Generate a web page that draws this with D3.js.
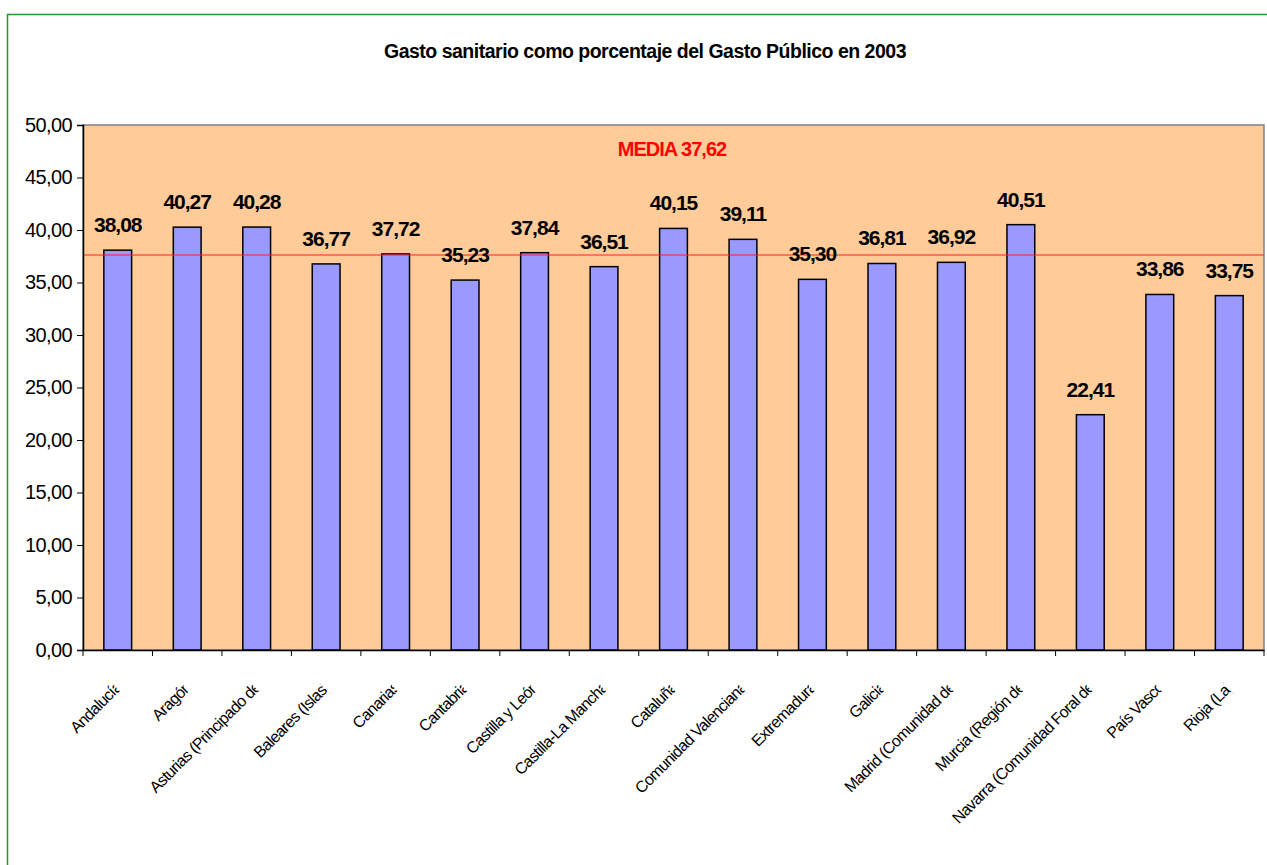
<!DOCTYPE html>
<html>
<head>
<meta charset="utf-8">
<script src="https://cdn.jsdelivr.net/npm/d3@7"></script>
<style>
  body { margin: 0; background: #fff; }
  svg { display: block; font-family: Arial, "Liberation Sans", sans-serif; }
</style>
</head>
<body>
<div id="chart"></div>
<script>
// Data
const regiones = ['Andalucía', 'Aragón', 'Asturias (Principado de', 'Baleares (Islas)', 'Canarias',
  'Cantabria', 'Castilla y León', 'Castilla-La Mancha', 'Cataluña', 'Comunidad Valenciana',
  'Extremadura', 'Galicia', 'Madrid (Comunidad de', 'Murcia (Región de',
  'Navarra (Comunidad Foral de', 'País Vasco', 'Rioja (La)']
const gasto = [38.08, 40.27, 40.28, 36.77, 37.72, 35.23, 37.84, 36.51, 40.15, 39.11,
  35.30, 36.81, 36.92, 40.51, 22.41, 33.86, 33.75]
const media = 37.62
const yTicks = [0, 5, 10, 15, 20, 25, 30, 35, 40, 45, 50]
const titulo = 'Gasto sanitario como porcentaje del Gasto Público en 2003'

const width = 1267, height = 865
const plot = { left: 83, top: 125, right: 1264, bottom: 650 }

const fmt = v => d3.format('.2f')(v).replace('.', ',')

const svg = d3.select('#chart').append('svg')
  .attr('width', width)
  .attr('height', height)

// outer chart border (green)
svg.append('rect')
  .attr('x', 7.5).attr('y', 14.5)
  .attr('width', 1400).attr('height', 1000)
  .attr('fill', '#fff')
  .attr('stroke', '#2f8f2f')
  .attr('stroke-width', 1.5)

const x = d3.scaleBand()
  .domain(regiones)
  .range([plot.left, plot.right])
  .paddingInner(0.6)
  .paddingOuter(0.3)

const xCat = d3.scaleBand()
  .domain(regiones)
  .range([plot.left, plot.right])

const y = d3.scaleLinear()
  .domain([0, 50])
  .range([plot.bottom, plot.top])

// plot background
svg.append('rect')
  .attr('x', plot.left).attr('y', plot.top)
  .attr('width', plot.right - plot.left)
  .attr('height', plot.bottom - plot.top)
  .attr('fill', '#ffcc99')
  .attr('stroke', '#808080')
  .attr('stroke-width', 1.5)

// title
svg.append('text')
  .attr('x', 645).attr('y', 58)
  .attr('text-anchor', 'middle')
  .attr('font-size', 19.5)
  .attr('font-weight', 'bold')
  .attr('letter-spacing', -0.5)
  .text(titulo)

// mean label
svg.append('text')
  .attr('x', 672).attr('y', 156)
  .attr('text-anchor', 'middle')
  .attr('font-size', 20)
  .attr('font-weight', 'bold')
  .attr('letter-spacing', -1)
  .attr('fill', '#ff0000')
  .text('MEDIA ' + fmt(media))

// bars
svg.selectAll('rect.bar')
  .data(gasto)
  .enter()
  .append('rect')
  .attr('class', 'bar')
  .attr('x', (d, i) => x(regiones[i]))
  .attr('y', d => y(d))
  .attr('width', x.bandwidth())
  .attr('height', d => y(0) - y(d))
  .attr('fill', '#9999ff')
  .attr('stroke', '#000')
  .attr('stroke-width', 1.5)

// mean line
svg.append('line')
  .attr('x1', plot.left).attr('x2', plot.right)
  .attr('y1', y(media)).attr('y2', y(media))
  .attr('stroke', '#ff2020')
  .attr('stroke-width', 1.2)

// value labels
svg.selectAll('text.valor')
  .data(gasto)
  .enter()
  .append('text')
  .attr('class', 'valor')
  .attr('x', (d, i) => x(regiones[i]) + x.bandwidth() / 2)
  .attr('y', d => y(d) - 18)
  .attr('text-anchor', 'middle')
  .attr('font-size', 21)
  .attr('font-weight', 'bold')
  .attr('letter-spacing', -1)
  .text(d => fmt(d))

// y axis
const yAxis = svg.append('g')
  .attr('transform', `translate(${plot.left},0)`)
  .call(d3.axisLeft(y).tickValues(yTicks).tickSize(6).tickPadding(5).tickFormat(fmt))
yAxis.select('.domain').attr('stroke', '#000').attr('stroke-width', 1.5)
yAxis.selectAll('.tick line').attr('stroke', '#000')
yAxis.selectAll('.tick text')
  .attr('font-family', 'Arial, "Liberation Sans", sans-serif')
  .attr('font-size', 20)
  .attr('letter-spacing', -0.6)
  .attr('fill', '#000')

// x axis: ticks at category boundaries
const xAxis = svg.append('g')
  .attr('transform', `translate(0,${plot.bottom})`)
  .call(d3.axisBottom(xCat).tickSize(0).tickFormat(''))
xAxis.select('.domain').attr('stroke', '#000').attr('stroke-width', 1.5)
xAxis.selectAll('.tick').remove()
xAxis.selectAll('line.sep')
  .data(regiones.concat(['fin']))
  .enter()
  .append('line')
  .attr('class', 'sep')
  .attr('x1', (d, i) => i < regiones.length ? xCat(d) : plot.right)
  .attr('x2', (d, i) => i < regiones.length ? xCat(d) : plot.right)
  .attr('y1', 0).attr('y2', 6)
  .attr('stroke', '#000')

// rotated category labels, end of each label clipped a little (as in the original)
svg.append('defs').append('clipPath')
  .attr('id', 'corte')
  .append('rect')
  .attr('x', -400).attr('y', -30)
  .attr('width', 400).attr('height', 60)

const cat = svg.selectAll('g.cat')
  .data(regiones)
  .enter()
  .append('g')
  .attr('class', 'cat')
  .attr('transform', d => `translate(${xCat(d) + xCat.bandwidth() / 2 + 2},${plot.bottom + 41}) rotate(-45)`)
  .attr('clip-path', 'url(#corte)')

cat.append('text')
  .attr('x', 4)
  .attr('text-anchor', 'end')
  .attr('font-size', 16)
  .attr('letter-spacing', -0.7)
  .text(d => d)
</script>
</body>
</html>
